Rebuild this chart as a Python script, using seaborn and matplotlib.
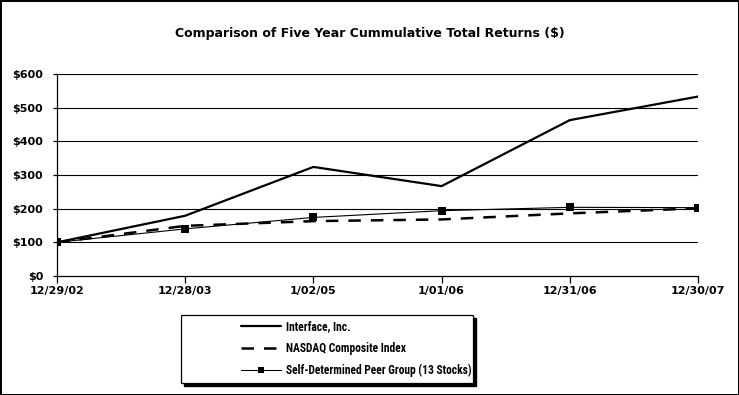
import matplotlib
matplotlib.use("Agg")
import matplotlib.pyplot as plt
from matplotlib.patches import Rectangle
from matplotlib.lines import Line2D
from matplotlib import font_manager
import seaborn as sns
import pandas as pd

# data
dates = ['12/29/02', '12/28/03', '1/02/05', '1/01/06', '12/31/06', '12/30/07']
interface = [100, 179, 324, 267, 463, 533]
nasdaq = [100, 149, 163, 168, 186, 201]
peer = [100, 140, 174, 194, 204, 203]
series_names = ['Interface, Inc.', 'NASDAQ Composite Index',
                'Self-Determined Peer Group (13 Stocks)']
y_ticks = [0, 100, 200, 300, 400, 500, 600]

df = pd.DataFrame({
    'pos': list(range(len(dates))) * 3,
    'value': interface + nasdaq + peer,
    'series': [s for s in series_names for _ in dates],
})

sns.set_style('white')
plt.rcParams['font.family'] = ['DejaVu Sans']
plt.rcParams['font.weight'] = 'bold'
plt.rcParams['text.color'] = 'black'
plt.rcParams['xtick.color'] = 'black'
plt.rcParams['ytick.color'] = 'black'

# narrow face for the legend if one is around
names = {f.name for f in font_manager.fontManager.ttflist}
leg_family = 'Liberation Sans'
for cand in ['Liberation Sans Narrow', 'DejaVu Sans Condensed', 'Roboto Condensed']:
    if cand in names:
        leg_family = cand
        break
leg_size = 8.3 if leg_family != 'Liberation Sans' else 7.5

W, H = 739, 395
fig = plt.figure(figsize=(W / 100, H / 100), dpi=100)
fig.patch.set_edgecolor('black')
fig.patch.set_linewidth(2)

ax = fig.add_axes([57 / W, 1 - 276 / H, (698 - 57) / W, (276 - 74) / H])

styles = {
    series_names[0]: dict(lw=1.6, ls='-', marker=None),
    series_names[1]: dict(lw=1.8, ls=(0, (5, 4)), marker=None),
    series_names[2]: dict(lw=0.8, ls='-', marker='s'),
}
for name in series_names:
    st = styles[name]
    sub = df[df['series'] == name]
    sns.lineplot(data=sub, x='pos', y='value', ax=ax, color='black',
                 linewidth=st['lw'], linestyle=st['ls'], marker=st['marker'],
                 markersize=6, markeredgewidth=0, legend=False, zorder=3)

ax.set_xlim(0, len(dates) - 1)
ax.set_ylim(0, 600)
ax.set_yticks(y_ticks)
ax.set_yticklabels([f'${v}' for v in y_ticks], fontsize=8, fontweight='bold')
ax.set_xticks(range(len(dates)))
ax.set_xticklabels(dates, fontsize=8, fontweight='bold')
ax.set_xlabel('')
ax.set_ylabel('')
for v in y_ticks[1:]:
    ax.axhline(v, color='black', lw=0.8, zorder=1)

for side in ['top', 'right']:
    ax.spines[side].set_visible(False)
for side in ['left', 'bottom']:
    ax.spines[side].set_color('black')
    ax.spines[side].set_linewidth(0.9)
ax.tick_params(axis='x', direction='out', length=5, width=0.9, pad=2, bottom=True)
ax.tick_params(axis='y', direction='out', length=3, width=0.9, pad=7, left=True)

fig.text(0.5, 1 - 34 / H, 'Comparison of Five Year Cummulative Total Returns ($)',
         ha='center', va='center', fontsize=9, fontweight='bold')

# legend box with shadow
bx, by, bw, bh = 181, 315, 292, 68
fig.patches.append(Rectangle(((bx + 3) / W, 1 - (by + bh + 3) / H), bw / W, bh / H,
                             transform=fig.transFigure, facecolor='black',
                             edgecolor='black', zorder=1))
fig.patches.append(Rectangle((bx / W, 1 - (by + bh) / H), bw / W, bh / H,
                             transform=fig.transFigure, facecolor='white',
                             edgecolor='black', lw=0.9, zorder=2))
handles = [Line2D([], [], color='black', lw=styles[n]['lw'], ls=styles[n]['ls'],
                  marker=styles[n]['marker'], markersize=5, markeredgewidth=0)
           for n in series_names]
leg = fig.legend(handles, series_names, loc='upper left',
                 bbox_to_anchor=(233 / W, 1 - 312 / H), frameon=False,
                 handlelength=3.5, labelspacing=0.78,
                 handletextpad=0.4, borderpad=0.2,
                 prop=dict(family=leg_family, weight='bold', size=leg_size))
leg.set_zorder(5)

fig.savefig('out.png', dpi=100)
